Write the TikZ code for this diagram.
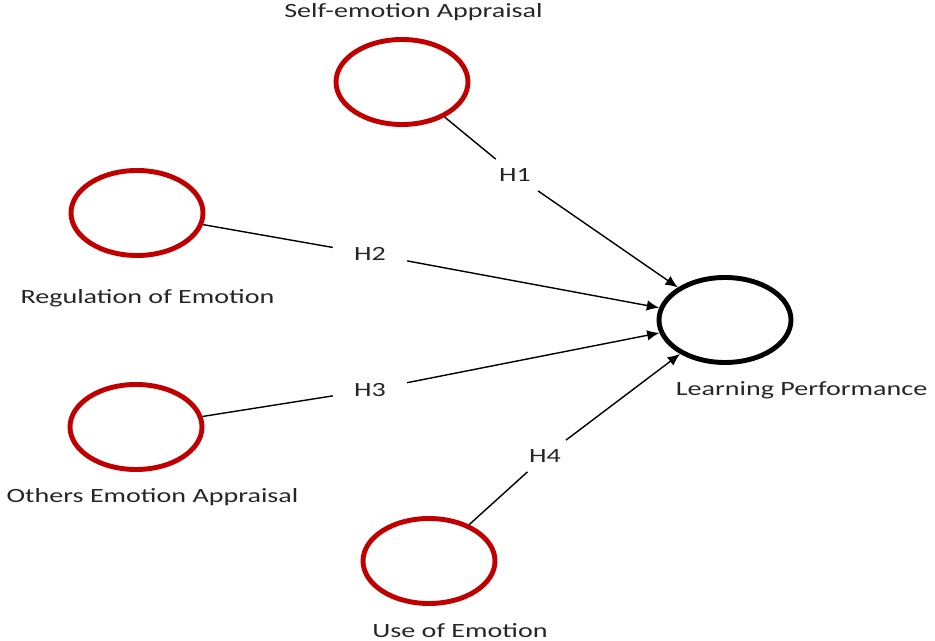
\documentclass[tikz,border=0pt]{standalone}
\usepackage{fontspec}
\setmainfont{Carlito}
\usetikzlibrary{shapes.geometric,arrows.meta}
\definecolor{merah}{HTML}{C00000}

\tikzset{
  konstruk/.style={ellipse, draw=merah, line width=2.8pt, minimum width=2.64cm, minimum height=1.7cm},
  target/.style={konstruk, draw=black},
  teks/.style={font=\fontsize{11.5}{13}\selectfont, xscale=1.39, transform shape, text=black!85},
  hipo/.style={teks, inner xsep=0.3cm, inner ysep=0.18cm},
  jalur/.style={line width=0.8pt},
  panah/.style={jalur, -{Latex[length=7pt,width=6pt]}}
}

\begin{document}
\begin{tikzpicture}
  \useasboundingbox (0,0) rectangle (18.7,12.82);

  % konstruk
  \node[konstruk] (sea) at (8.04,11.18) {};
  \node[konstruk] (roe) at (2.74,8.56)  {};
  \node[konstruk] (oea) at (2.72,4.28)  {};
  \node[konstruk] (uoe) at (8.58,1.60)  {};
  \node[target]   (lp)  at (14.50,6.42) {};

  % hipotesis
  \node[hipo] (h1) at (10.30,9.32) {H1};
  \node[hipo] (h2) at (7.40,7.74)  {H2};
  \node[hipo] (h3) at (7.40,5.02)  {H3};
  \node[hipo] (h4) at (10.90,3.70) {H4};

  \draw[jalur] (sea) -- (h1);  \draw[panah] (h1) -- (lp);
  \draw[jalur] (roe) -- (h2);  \draw[panah] (h2) -- (lp);
  \draw[jalur] (oea) -- (h3);  \draw[panah] (h3) -- (lp);
  \draw[jalur] (uoe) -- (h4);  \draw[panah] (h4) -- (lp);

  % label
  \node[teks] (lsea) at (8.27,12.58) {Self-emotion Appraisal};
  \node[teks] (lroe) at (2.95,6.86)  {Regulation of Emotion};
  \node[teks] (loea) at (3.05,2.88)  {Others Emotion Appraisal};
  \node[teks] (luoe) at (9.20,0.20)  {Use of Emotion};
  \node[teks] (llp)  at (16.03,5.02) {Learning Performance};
\end{tikzpicture}
\end{document}
